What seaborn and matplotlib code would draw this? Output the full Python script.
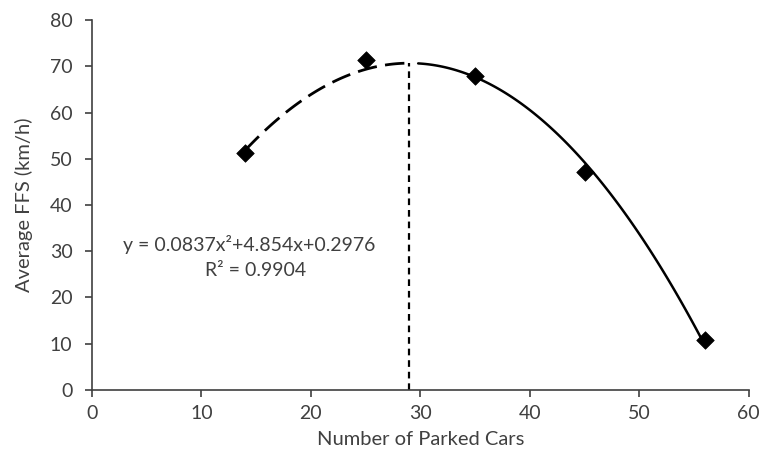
import numpy as np
import pandas as pd
import matplotlib
matplotlib.use('Agg')
import matplotlib.pyplot as plt
import seaborn as sns

# Messpunkte
parked_cars = [14, 25, 35, 45, 56]
avg_ffs = [51.2, 71.3, 68.0, 47.2, 10.9]

# Trendlinie aus der Beschriftung (y = a x^2 + b x + c, a negativ)
coef_a = -0.0837
coef_b = 4.854
coef_c = 0.2976
x_peak = 29

x_ticks = [0, 10, 20, 30, 40, 50, 60]
y_ticks = [0, 10, 20, 30, 40, 50, 60, 70, 80]

TEXT_COL = '#404040'

sns.set_theme(style='white')
plt.rcParams['font.family'] = ['Lato', 'DejaVu Sans']

df = pd.DataFrame({'cars': parked_cars, 'ffs': avg_ffs})


def trend(x):
    return coef_a * x ** 2 + coef_b * x + coef_c


fig = plt.figure(figsize=(7.64, 4.55), dpi=100)
ax = fig.add_axes([0.1204, 0.1429, 0.8596, 0.8131])

# gestrichelter Teil bis zum Maximum, durchgezogen danach
x_left = np.linspace(parked_cars[0], x_peak, 60)
x_right = np.linspace(x_peak + 0.8, parked_cars[-1], 120)
sns.lineplot(x=x_left, y=trend(x_left), ax=ax, color='black', lw=2,
             linestyle=(0, (7, 3)))
sns.lineplot(x=x_right, y=trend(x_right), ax=ax, color='black', lw=1.8)

# senkrechte Linie am Maximum
ax.plot([x_peak, x_peak], [0, trend(x_peak)], color='black', lw=1.6,
        linestyle=(0, (3, 2.2)))

sns.scatterplot(data=df, x='cars', y='ffs', ax=ax, marker='D', s=80,
                color='black', edgecolor='black', linewidth=0.5, zorder=5)

ax.text(2.8, 31.4, 'y = 0.0837x²+4.854x+0.2976', ha='left', va='center',
        fontsize=14, color=TEXT_COL)
ax.text(10.3, 25.9, 'R² = 0.9904', ha='left', va='center',
        fontsize=14, color=TEXT_COL)

ax.set_xlim(0, 60)
ax.set_ylim(0, 80)
ax.set_xticks(x_ticks)
ax.set_yticks(y_ticks)
ax.set_xlabel('Number of Parked Cars', fontsize=14.5, color=TEXT_COL, labelpad=6)
ax.set_ylabel('Average FFS (km/h)', fontsize=14.5, color=TEXT_COL, labelpad=12)

sns.despine(ax=ax)
for side in ['left', 'bottom']:
    ax.spines[side].set_color('#404040')
    ax.spines[side].set_linewidth(1.2)
ax.tick_params(axis='both', direction='out', length=5, width=1.2,
               color='#404040', labelsize=14, labelcolor=TEXT_COL,
               left=True, bottom=True)
ax.tick_params(axis='x', pad=6)
ax.tick_params(axis='y', pad=9)

fig.savefig('out.png', dpi=100)
